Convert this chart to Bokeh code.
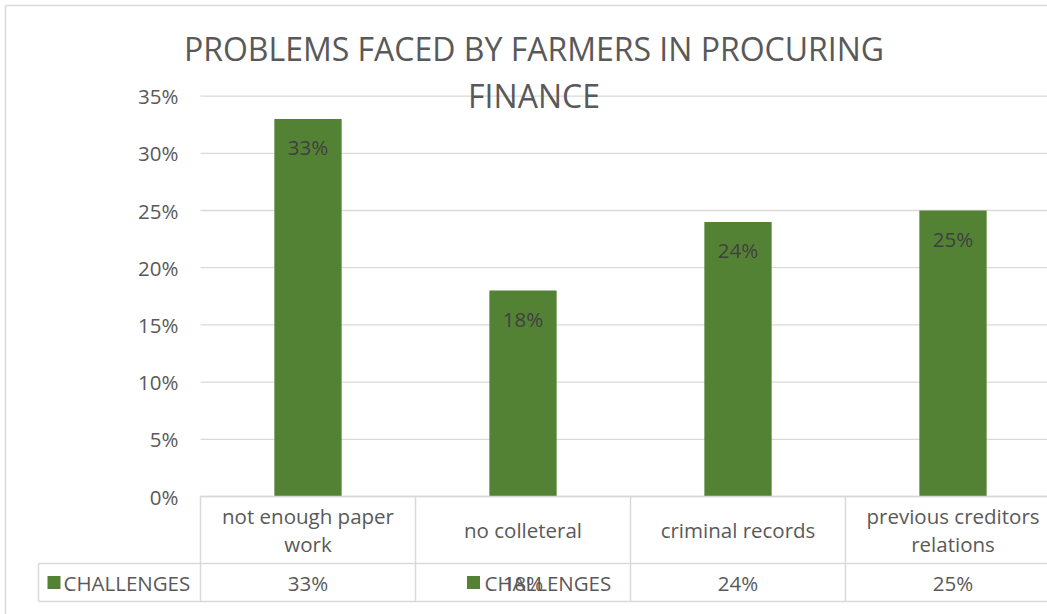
from bokeh.plotting import figure
from bokeh.models import Range1d
from bokeh.core.properties import value
from bokeh.embed import file_html
from bokeh.resources import INLINE

# ---- data ----
title_lines = ["PROBLEMS FACED BY FARMERS IN PROCURING", "FINANCE"]
categories = ["not enough paper\nwork", "no colleteral", "criminal records", "previous creditors\nrelations"]
values = [33, 18, 24, 25]
series_name = "CHALLENGES"
y_ticks = [0, 5, 10, 15, 20, 25, 30, 35]

# ---- layout (pixels) ----
W, H = 1047, 614
PLOT_LEFT = 200.0      # left edge of plot area
CELL = 215.0           # width of one category cell
ZERO_Y = 496.0         # pixel row of 0%
PX_PER_PCT = 11.44     # pixels per percent
ROW1_BOTTOM = 563.0
ROW2_BOTTOM = 601.0
LEGEND_LEFT = 38.0

GREEN = "#548235"
GRID = "#d9d9d9"
TXT = "#595959"
FONT = value("Open Sans")
FS = "20.5px"


def ux(px):
    return (px - PLOT_LEFT) / CELL - 0.5


def vy(py):
    return (ZERO_Y - py) / PX_PER_PCT


n = len(categories)
xs = list(range(n))

p = figure(width=W, height=H, x_range=Range1d(ux(0), ux(W)), y_range=Range1d(vy(H), vy(0)),
           x_axis_type=None, y_axis_type=None, toolbar_location=None, output_backend="svg",
           min_border=0, outline_line_color=None, background_fill_color="white",
           border_fill_color="white")

# chart border (left and top)
p.segment(x0=[ux(5), ux(5)], y0=[vy(5), vy(5)], x1=[ux(5), ux(W + 5)], y1=[vy(H + 5), vy(5)],
          line_color=GRID, line_width=1.5)

# gridlines
p.segment(x0=[ux(PLOT_LEFT)] * len(y_ticks), y0=y_ticks, x1=[ux(W + 5)] * len(y_ticks), y1=y_ticks,
          line_color=GRID, line_width=1.3)

# y tick labels
p.text(x=[ux(178)] * len(y_ticks), y=y_ticks, text=[f"{t}%" for t in y_ticks],
       text_font=FONT, text_font_size=FS, text_color=TXT,
       text_align="right", text_baseline="middle")

# bars
p.vbar(x=xs, top=values, bottom=0, width=0.313, fill_color=GREEN, line_color=None)

# data labels (inside end)
p.text(x=xs, y=[v - 28 / PX_PER_PCT for v in values], text=[f"{v}%" for v in values],
       text_font=FONT, text_font_size=FS, text_color="#404040",
       text_align="center", text_baseline="middle")

# title
p.text(x=[ux(533.5)], y=[vy(48)], text=[title_lines[0]], text_font=FONT, text_font_size="32px",
       text_color=TXT, text_align="center", text_baseline="middle")
p.text(x=[ux(533.5)], y=[vy(95)], text=[title_lines[1]], text_font=FONT, text_font_size="32px",
       text_color=TXT, text_align="center", text_baseline="middle")

# data table lines
edges = [i - 0.5 for i in range(n + 1)]
p.segment(x0=[ux(PLOT_LEFT), ux(LEGEND_LEFT), ux(LEGEND_LEFT)],
          y0=[0, vy(ROW1_BOTTOM), vy(ROW2_BOTTOM)],
          x1=[edges[-1]] * 3,
          y1=[0, vy(ROW1_BOTTOM), vy(ROW2_BOTTOM)],
          line_color=GRID, line_width=1.5)
p.segment(x0=edges, y0=[0] * len(edges), x1=edges, y1=[vy(ROW2_BOTTOM)] * len(edges),
          line_color=GRID, line_width=1.5)
p.segment(x0=[ux(LEGEND_LEFT)], y0=[vy(ROW1_BOTTOM)], x1=[ux(LEGEND_LEFT)], y1=[vy(ROW2_BOTTOM)],
          line_color=GRID, line_width=1.5)

# category labels (row 1)
p.text(x=xs, y=[vy((ZERO_Y + ROW1_BOTTOM) / 2)] * n, text=categories,
       text_font=FONT, text_font_size=FS, text_color=TXT, text_line_height=1.02,
       text_align="center", text_baseline="middle")

# values (row 2)
row2_y = vy((ROW1_BOTTOM + ROW2_BOTTOM) / 2)
p.text(x=xs, y=[row2_y] * n, text=[f"{v}%" for v in values],
       text_font=FONT, text_font_size=FS, text_color=TXT,
       text_align="center", text_baseline="middle")

# legend key in table, plus the stray overlapping copy
p.scatter(x=[ux(53.5), ux(473)], y=[row2_y, row2_y], marker="square", size=13,
          fill_color=GREEN, line_color=None)
p.text(x=[ux(63), ux(484)], y=[row2_y, row2_y], text=[series_name, series_name],
       text_font=FONT, text_font_size=FS, text_color=TXT,
       text_align="left", text_baseline="middle")

open("out.html", "w").write(file_html(p, INLINE))
